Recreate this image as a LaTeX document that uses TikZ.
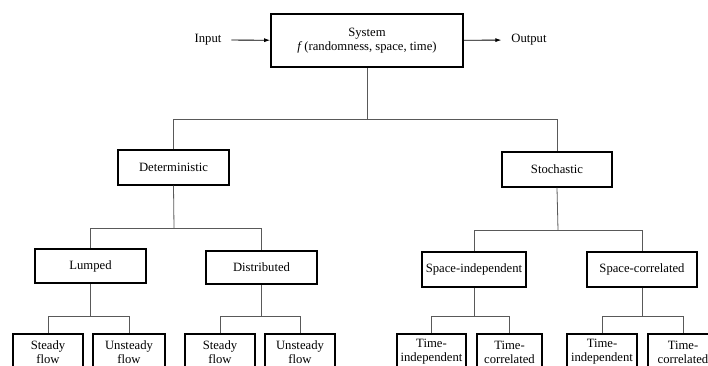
\documentclass[tikz,border=0pt]{standalone}
\usepackage{fontspec}
\setmainfont{Liberation Serif}
\usetikzlibrary{arrows.meta}

\tikzset{
    box/.style={draw, line width=1.3pt, align=center, inner sep=1pt,
        font=\fontsize{9.5}{10.5}\selectfont},
    leaf/.style={box, anchor=north, minimum width=52.5pt, minimum height=27pt},
    link/.style={draw=black!65, line width=0.6pt},
    arr/.style={-{Latex[length=4.5pt,width=3pt]}, line width=0.6pt}
}

\begin{document}
\begin{tikzpicture}[x=0.75pt, y=-0.75pt, font=\fontsize{9.5}{10.5}\selectfont]
        \useasboundingbox (0,0) rectangle (708,365);

        \coordinate (j0) at (367,119);
        \coordinate (j1) at (174,228);
        \coordinate (j2) at (558,230);
        \coordinate (j3) at (0,316);

        % system with input and output
        \node[box, minimum width=144pt, minimum height=40pt] (sys) at (367,40.5)
            {System\\\textit{f}\,(randomness, space, time)};
        \node (in) at (208,40) {Input};
        \node (out) at (529,40) {Output};
        \draw[arr, shorten <=4pt] (in) -- (sys);
        \draw[arr, shorten >=4pt] (sys) -- (out);

        % first split
        \node[box, minimum width=83pt, minimum height=26pt] (det) at (173.5,167.5) {Deterministic};
        \node[box, minimum width=82.5pt, minimum height=26pt] (sto) at (557,169.5) {Stochastic};
        \draw[link] (sys.south) -- (sys.south |- j0);
        \draw[link] (det.north) |- (sto.north |- j0) -- (sto.north);

        % second split
        \node[box, minimum width=83pt, minimum height=25.5pt] (lum) at (90.5,266) {Lumped};
        \node[box, minimum width=83pt, minimum height=25pt] (dis) at (261.5,267.5) {Distributed};
        \node[box, minimum width=78pt, minimum height=26pt] (spi) at (474,269.5) {Space-independent};
        \node[box, minimum width=82.5pt, minimum height=26pt] (spc) at (642,269.5) {Space-correlated};
        \draw[link] (det.south) -- (j1);
        \draw[link] (lum.north) |- (dis.north |- j1) -- (dis.north);
        \draw[link] (sto.south) -- (j2);
        \draw[link] (spi.north) |- (spc.north |- j2) -- (spc.north);

        % leaves
        \node[leaf] (s1) at (48,333) {Steady\\flow};
        \node[leaf, minimum width=54pt] (u1) at (129,333) {Unsteady\\flow};
        \node[leaf] (s2) at (220,333) {Steady\\flow};
        \node[leaf] (u2) at (300,333) {Unsteady\\flow};
        \node[leaf, minimum width=52pt] (t1) at (431.5,333) {Time-\\independent};
        \node[leaf, minimum width=49pt] (c1) at (509.5,333) {Time-\\correlated};
        \node[leaf] (t2) at (602,333) {Time-\\independent};
        \node[leaf] (c2) at (683,333) {Time-\\correlated};

        \draw[link] (lum.south) -- (lum.south |- j3);
        \draw[link] (s1.north) |- (u1.north |- j3) -- (u1.north);
        \draw[link] (dis.south) -- (dis.south |- j3);
        \draw[link] (s2.north) |- (u2.north |- j3) -- (u2.north);
        \draw[link] (spi.south) -- (spi.south |- j3);
        \draw[link] (t1.north) |- (c1.north |- j3) -- (c1.north);
        \draw[link] (spc.south) -- (spc.south |- j3);
        \draw[link] (t2.north) |- (c2.north |- j3) -- (c2.north);
\end{tikzpicture}
\end{document}
